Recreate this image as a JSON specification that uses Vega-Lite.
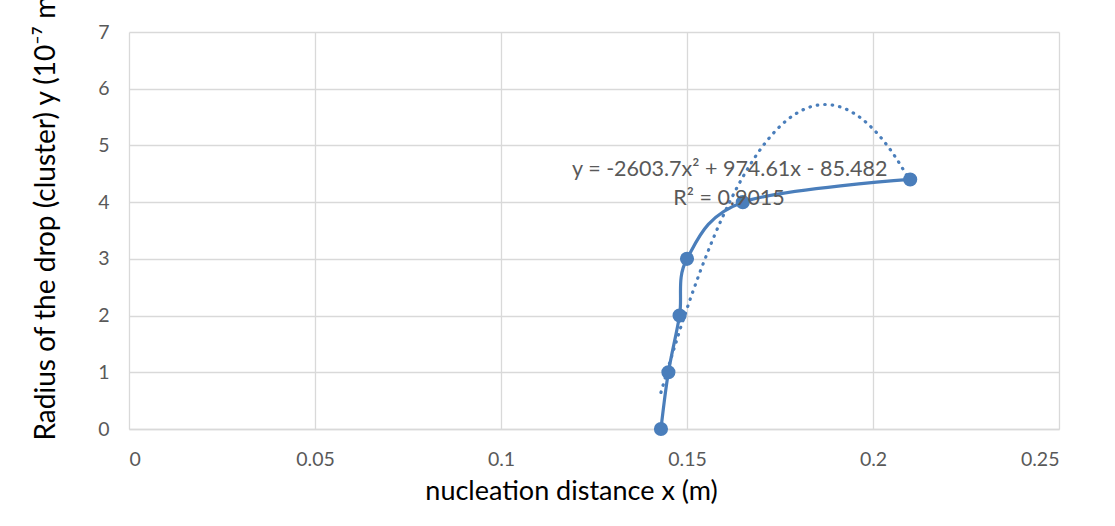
{
  "$schema": "https://vega.github.io/schema/vega-lite/v6.json",
  "width": 930,
  "height": 397,
  "autosize": {"type": "none"},
  "padding": {"left": 129, "top": 32, "right": 56, "bottom": 97},
  "background": "white",
  "config": {
    "view": {"stroke": null},
    "font": "Lato",
    "axis": {
      "gridColor": "#d9d9d9",
      "gridWidth": 1.3,
      "ticks": false,
      "labelColor": "#595959",
      "labelFontSize": 19.5,
      "titleFontSize": 27,
      "titleFontWeight": "normal",
      "titleColor": "#000000",
      "labelFont": "Lato",
      "titleFont": "Lato"
    }
  },
  "datasets": {
    "points": [
      {"x": 0.143, "y": 0},
      {"x": 0.145, "y": 1},
      {"x": 0.148, "y": 2},
      {"x": 0.15, "y": 3},
      {"x": 0.165, "y": 4},
      {"x": 0.21, "y": 4.4}
    ],
    "labels": [
      {"x": 0.1615, "y": 4.57, "label": "y = -2603.7x² + 974.61x - 85.482"},
      {"x": 0.1613, "y": 4.05, "label": "R² = 0.9015"}
    ]
  },
  "encoding": {
    "x": {
      "field": "x",
      "type": "quantitative",
      "scale": {"domain": [0, 0.25], "nice": false, "zero": false},
      "axis": {
        "title": "nucleation distance x (m)",
        "values": [0, 0.05, 0.1, 0.15, 0.2, 0.25],
        "format": "~g",
        "labelPadding": 21,
        "titlePadding": 10,
        "domainColor": "#d9d9d9",
        "domainWidth": 1.3,
        "titleX": 442
      }
    },
    "y": {
      "field": "y",
      "type": "quantitative",
      "scale": {"domain": [0, 7], "nice": false},
      "axis": {
        "title": "Radius of the drop (cluster) y (10⁻⁷ m)",
        "values": [0, 1, 2, 3, 4, 5, 6, 7],
        "domain": false,
        "labelPadding": 20,
        "titleFontSize": 28,
        "titleAngle": 270,
        "titleAlign": "left",
        "titleAnchor": "start",
        "titleX": -83,
        "titleY": 408,
        "titleBaseline": "middle"
      }
    }
  },
  "layer": [
    {
      "data": {"name": "points"},
      "transform": [
        {"regression": "y", "on": "x", "method": "poly", "order": 2, "extent": [0.143, 0.21]}
      ],
      "mark": {"type": "line", "strokeDash": [0.5, 7], "strokeCap": "round", "strokeWidth": 3.2, "color": "#4a7ebb"}
    },
    {
      "data": {"name": "points"},
      "mark": {"type": "line", "interpolate": "cardinal", "strokeWidth": 3.2, "color": "#4a7ebb"}
    },
    {
      "data": {"name": "points"},
      "mark": {"type": "circle", "size": 200, "opacity": 1, "color": "#4a7ebb"}
    },
    {
      "data": {"name": "labels"},
      "mark": {"type": "text", "fontSize": 21.5, "color": "#595959", "font": "Lato"},
      "encoding": {"text": {"field": "label", "type": "nominal"}}
    }
  ]
}
